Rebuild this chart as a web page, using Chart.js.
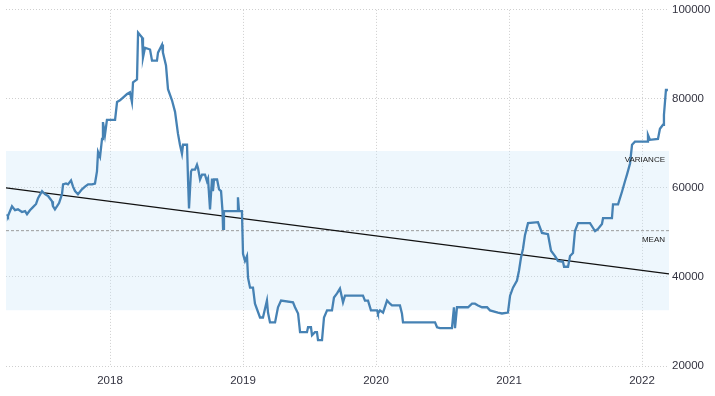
<!DOCTYPE html>
<html>
<head>
<meta charset="utf-8">
<script src="https://cdn.jsdelivr.net/npm/chart.js@4"></script>
<style>
  html, body { margin: 0; padding: 0; background: #fff; }
  #wrap { width: 715px; height: 396px; position: relative; }
</style>
</head>
<body>
<div id="wrap"><canvas id="chart"></canvas></div>
<script>
// decimal years and values, one pair of arrays per year
const dates2017 = [
  2017.226, 2017.233, 2017.263, 2017.286, 2017.308, 2017.338, 2017.361, 2017.376, 2017.398, 2017.421,
  2017.444, 2017.459, 2017.489, 2017.511, 2017.534, 2017.564, 2017.571, 2017.586, 2017.602, 2017.617,
  2017.639, 2017.647, 2017.669, 2017.684, 2017.707, 2017.722, 2017.737, 2017.759, 2017.789, 2017.812,
  2017.835, 2017.865, 2017.887, 2017.902, 2017.910, 2017.925, 2017.940, 2017.947, 2017.962, 2017.977
];
const values2017 = [
  54100, 53700, 55900, 55000, 55200, 54600, 54800, 54100, 55000, 55700,
  56400, 57700, 59300, 58600, 58200, 57000, 55900, 55200, 55900, 56600,
  58600, 60800, 61000, 60800, 61700, 60300, 59300, 58600, 59700, 60300,
  60800, 60800, 61000, 63700, 68100, 67000, 71000, 74800, 71900, 75300
];
const dates2018 = [
  2018.038, 2018.053, 2018.075, 2018.128, 2018.150, 2018.165, 2018.173, 2018.203, 2018.211, 2018.241,
  2018.248, 2018.263, 2018.301, 2018.316, 2018.353, 2018.361, 2018.391, 2018.398, 2018.421, 2018.436,
  2018.466, 2018.489, 2018.511, 2018.526, 2018.541, 2018.549, 2018.579, 2018.587, 2018.594, 2018.609,
  2018.617, 2018.639, 2018.654, 2018.662, 2018.677, 2018.692, 2018.714, 2018.729, 2018.737, 2018.752,
  2018.767, 2018.774, 2018.782, 2018.805, 2018.820, 2018.835, 2018.846, 2018.850, 2018.857, 2018.955,
  2018.962, 2018.970, 2018.992
];
const values2018 = [
  75300, 79300, 79700, 81100, 81500, 79300, 83700, 84400, 94900, 93800,
  89300, 91500, 91100, 88600, 88600, 90400, 92200, 90400, 87500, 82200,
  79700, 77100, 72200, 69700, 67700, 69700, 69700, 61500, 55400, 63700,
  64100, 64100, 65200, 64400, 61900, 63000, 63000, 61500, 62100, 55200,
  62100, 59300, 61900, 61900, 59700, 59300, 54800, 50800, 54800, 54800,
  57900, 54800, 54800
];
const dates2019 = [
  2019.000, 2019.015, 2019.030, 2019.038, 2019.053, 2019.075, 2019.090, 2019.128, 2019.150, 2019.180,
  2019.188, 2019.203, 2019.241, 2019.263, 2019.286, 2019.376, 2019.391, 2019.414, 2019.429, 2019.481,
  2019.489, 2019.511, 2019.519, 2019.541, 2019.556, 2019.564, 2019.594, 2019.609, 2019.632, 2019.669,
  2019.684, 2019.707, 2019.729, 2019.744, 2019.752, 2019.767, 2019.902, 2019.917, 2019.940, 2019.962
];
const values2019 = [
  45200, 43600, 44700, 39800, 37600, 37600, 34000, 30900, 30900, 34700,
  32000, 29800, 29800, 33200, 34700, 34300, 33200, 31800, 27600, 27600,
  28700, 28700, 26900, 27600, 27600, 25800, 25800, 30900, 32500, 32500,
  35400, 36300, 37400, 35400, 34300, 35800, 35800, 34700, 34700, 32500
];
const dates2020 = [
  2020.008, 2020.015, 2020.030, 2020.053, 2020.083, 2020.105, 2020.120, 2020.180, 2020.195, 2020.203,
  2020.444, 2020.459, 2020.481, 2020.571, 2020.586, 2020.594, 2020.609, 2020.692, 2020.722, 2020.744,
  2020.767, 2020.797, 2020.835, 2020.857, 2020.917, 2020.947, 2020.992
];
const values2020 = [
  32500, 31800, 32500, 32000, 34700, 34000, 33600, 33600, 31800, 29800,
  29800, 28700, 28500, 28500, 33200, 28500, 33200, 33200, 34000, 34000,
  33600, 33200, 33200, 32500, 32000, 31800, 32000
];
const dates2021 = [
  2021.008, 2021.030, 2021.060, 2021.075, 2021.090, 2021.105, 2021.120, 2021.143, 2021.218, 2021.248,
  2021.293, 2021.316, 2021.346, 2021.368, 2021.406, 2021.414, 2021.444, 2021.459, 2021.481, 2021.496,
  2021.519, 2021.609, 2021.632, 2021.647, 2021.669, 2021.699, 2021.707, 2021.774, 2021.782, 2021.820,
  2021.850, 2021.872, 2021.887, 2021.910, 2021.925, 2021.947
];
const values2021 = [
  35800, 37600, 39200, 41400, 44300, 46300, 49400, 52100, 52300, 49900,
  49600, 45900, 44700, 43600, 43400, 42300, 42300, 44700, 45400, 50300,
  52100, 52100, 51000, 50300, 50800, 51900, 53200, 53200, 56300, 56300,
  59200, 61500, 63000, 65500, 69700, 70400
];
const dates2022 = [2022.038, 2022.045, 2022.060, 2022.120, 2022.135, 2022.158, 2022.165, 2022.180, 2022.195];
const values2022 = [70400, 71900, 70800, 71000, 73300, 74200, 76400, 82000, 82000];

const xMin = 2017.218;
const xMax = 2022.203;
const yearTicks = [2018, 2019, 2020, 2021, 2022];
const yTicks = [20000, 40000, 60000, 80000, 100000];

const meanValue = 50400;
const varianceHigh = 68300;
const varianceLow = 32500;
const trendStart = 60000;
const trendEnd = 40700;

const textColor = '#333340';
const gridColor = '#cfcfcf';

const dates = [].concat(dates2017, dates2018, dates2019, dates2020, dates2021, dates2022);
const values = [].concat(values2017, values2018, values2019, values2020, values2021, values2022);
const series = dates.map((d, i) => ({ x: d, y: values[i] }));

// small caption text next to the band and the mean line
const bandLabels = {
  id: 'bandLabels',
  afterDatasetsDraw(chart) {
    const { ctx, chartArea, scales } = chart;
    ctx.save();
    ctx.font = '8px "Liberation Sans", Arial, sans-serif';
    ctx.fillStyle = '#222';
    ctx.textAlign = 'right';
    ctx.textBaseline = 'middle';
    ctx.fillText('VARIANCE', chartArea.right - 4, scales.y.getPixelForValue(varianceHigh) + 9);
    ctx.fillText('MEAN', chartArea.right - 4, scales.y.getPixelForValue(meanValue) + 9);
    ctx.restore();
  }
};

new Chart(document.getElementById('chart'), {
  type: 'line',
  data: {
    datasets: [
      {
        data: series,
        borderColor: '#4682b4',
        borderWidth: 2.3,
        pointRadius: 0,
        tension: 0,
        fill: false,
        order: 0
      },
      {
        data: [{ x: xMin, y: trendStart }, { x: xMax, y: trendEnd }],
        borderColor: '#111',
        borderWidth: 1.3,
        pointRadius: 0,
        fill: false,
        order: 1
      },
      {
        data: [{ x: xMin, y: meanValue }, { x: xMax, y: meanValue }],
        borderColor: '#9a9a9a',
        borderWidth: 1,
        borderDash: [3, 2],
        pointRadius: 0,
        fill: false,
        order: 2
      },
      {
        data: [{ x: xMin, y: varianceHigh }, { x: xMax, y: varianceHigh }],
        borderWidth: 0,
        borderColor: 'rgba(0,0,0,0)',
        backgroundColor: 'rgba(200,228,250,0.3)',
        pointRadius: 0,
        fill: '+1',
        order: 3
      },
      {
        data: [{ x: xMin, y: varianceLow }, { x: xMax, y: varianceLow }],
        borderWidth: 0,
        borderColor: 'rgba(0,0,0,0)',
        pointRadius: 0,
        fill: false,
        order: 4
      }
    ]
  },
  options: {
    responsive: true,
    maintainAspectRatio: false,
    animation: false,
    layout: { padding: { left: 6, top: 7, right: 0, bottom: 0 } },
    plugins: {
      legend: { display: false },
      tooltip: { enabled: false },
      filler: { drawTime: 'beforeDatasetsDraw' }
    },
    scales: {
      x: {
        type: 'linear',
        min: xMin,
        max: xMax,
        afterBuildTicks: scale => { scale.ticks = yearTicks.map(v => ({ value: v })); },
        afterFit: scale => { scale.height = 30; },
        grid: { color: gridColor, drawTicks: false },
        border: { display: false, dash: [1, 2] },
        ticks: {
          padding: 8,
          color: textColor,
          font: { family: '"Liberation Sans", Arial, sans-serif', size: 11.5 },
          callback: v => String(v)
        }
      },
      y: {
        position: 'right',
        min: 20000,
        max: 100000,
        afterBuildTicks: scale => { scale.ticks = yTicks.map(v => ({ value: v })); },
        afterFit: scale => { scale.width = 46; },
        grid: { color: gridColor, drawTicks: false },
        border: { display: false, dash: [1, 2] },
        ticks: {
          padding: 3,
          color: textColor,
          font: { family: '"Liberation Sans", Arial, sans-serif', size: 11.5 },
          callback: v => String(v)
        }
      }
    }
  },
  plugins: [bandLabels]
});
</script>
</body>
</html>
